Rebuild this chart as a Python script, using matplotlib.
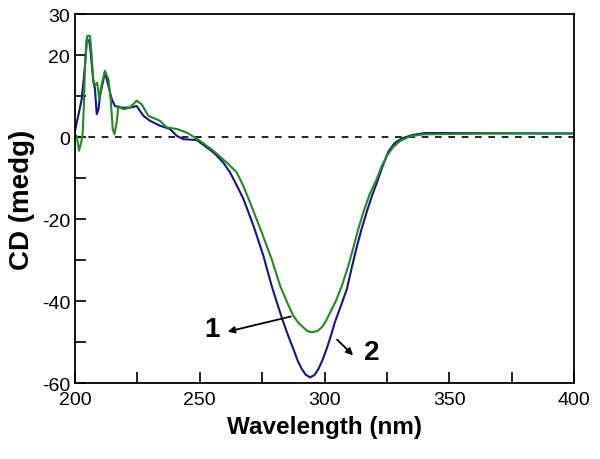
import numpy as np
import matplotlib
matplotlib.use("Agg")
import matplotlib.pyplot as plt

plt.rcParams['font.family'] = ['Liberation Sans', 'DejaVu Sans']
plt.rcParams['axes.unicode_minus'] = False

# curve 2 (blue)
wl_2 = [200.0, 200.4, 201.3, 202.7, 204.0, 204.7, 205.7, 206.3, 207.3, 208.0,
        208.7, 209.4, 210.0, 211.4, 212.0, 213.4, 214.7, 216.0, 218.0, 222.0,
        224.7, 227.4, 230.0, 234.0, 238.0, 240.8, 243.4, 248.8, 252.8, 256.0,
        259.4, 262.1, 265.0, 267.5, 271.5, 275.5, 278.8, 281.5, 283.5, 285.5,
        287.5, 289.2, 290.9, 292.5, 294.2, 296.0, 297.5, 299.2, 300.9, 302.5,
        304.2, 306.5, 308.9, 311.0, 313.0, 315.0, 317.0, 319.0, 321.0, 323.0,
        325.6, 328.0, 331.0, 335.0, 340.0, 345.0, 400.0]
cd_2 = [1.5, 2.8, 5.2, 9.3, 17.4, 23.9, 23.5, 20.7, 13.7, 11.7,
        5.6, 6.8, 10.0, 14.1, 15.8, 12.5, 9.3, 7.6, 7.2, 7.2,
        7.6, 5.2, 4.0, 2.8, 2.0, 0.3, -0.5, -0.7, -2.5, -4.0,
        -6.2, -8.6, -12.0, -15.1, -21.6, -29.0, -36.3, -41.5, -45.2, -48.6,
        -51.7, -54.5, -56.6, -58.0, -58.6, -58.0, -56.6, -54.3, -51.5, -48.5,
        -45.0, -41.2, -37.1, -31.5, -26.5, -22.0, -18.0, -14.3, -11.0, -7.5,
        -3.5, -1.5, -0.3, 0.5, 1.0, 1.0, 0.9]

# curve 1 (green)
wl_1 = [200.0, 200.7, 201.6, 202.5, 203.1, 203.6, 204.0, 204.9, 206.0, 206.7,
        207.3, 208.0, 208.9, 209.7, 210.7, 212.0, 213.4, 214.3, 215.1, 215.8,
        216.7, 217.4, 219.4, 222.0, 224.7, 226.7, 229.4, 234.0, 236.7, 240.8,
        244.8, 250.1, 255.4, 260.8, 264.8, 267.5, 270.1, 274.8, 278.8, 282.2,
        285.0, 287.5, 289.5, 291.5, 293.0, 294.9, 297.0, 298.9, 300.5, 302.2,
        304.5, 306.9, 309.5, 311.5, 313.5, 315.5, 318.0, 320.9, 322.8, 324.9,
        327.5, 330.3, 334.3, 339.6, 370.0, 400.0]
cd_1 = [0.5, 0.3, -3.3, -1.3, 1.1, 8.4, 17.4, 24.7, 24.7, 19.8,
        14.1, 12.5, 13.3, 9.3, 12.9, 16.2, 14.1, 9.3, 2.0, 0.7,
        3.6, 7.6, 6.8, 7.2, 8.9, 8.0, 5.2, 4.0, 2.4, 2.0,
        1.1, -0.9, -3.3, -6.2, -8.6, -12.0, -15.9, -23.2, -29.8, -36.3,
        -40.3, -43.6, -45.3, -46.4, -47.3, -47.6, -47.3, -46.4, -44.9, -42.8,
        -40.0, -36.3, -31.4, -27.0, -22.4, -18.4, -14.0, -10.2, -7.2, -4.6,
        -2.4, -0.9, 0.2, 0.7, 0.9, 0.9]

fig = plt.figure(figsize=(6, 4.6), dpi=100)
ax = fig.add_axes([0.125, 0.165, 0.832, 0.802])

ax.axhline(0, color='black', lw=1.2, ls=(0, (4, 4)))
ax.plot(wl_2, cd_2, color='#14148c', lw=1.5)
ax.plot(wl_1, cd_1, color='#1f8c1f', lw=1.5)

ax.set_xlim(200, 400)
ax.set_ylim(-60, 30)
ax.set_xticks([200, 250, 300, 350, 400])
ax.set_xticks([225, 275, 325, 375], minor=True)
ax.set_yticks([30, 20, 0, -20, -40, -60])
ax.set_yticks([10, -10, -30, -50], minor=True)
ax.tick_params(which='both', direction='in', length=8, width=1.2,
               labelsize=14, top=False, right=False)
ax.tick_params(axis='x', pad=6)
for s in ax.spines.values():
    s.set_linewidth(1.3)

ax.set_xlabel('Wavelength (nm)', fontsize=17.5, fontweight='bold', labelpad=5)
ax.set_ylabel('CD (medg)', fontsize=20, fontweight='bold', labelpad=5)

ax.annotate('', xy=(260.1, -47.6), xytext=(287.5, -43.6),
            arrowprops=dict(arrowstyle='-|>', color='black', lw=1.3))
ax.text(254.8, -46.8, '1', fontsize=20, fontweight='bold', ha='center', va='center')
ax.annotate('', xy=(312.2, -53.7), xytext=(304.2, -48.9),
            arrowprops=dict(arrowstyle='-|>', color='black', lw=1.3))
ax.text(318.9, -52.5, '2', fontsize=20, fontweight='bold', ha='center', va='center')

fig.savefig('out.png', dpi=100)
